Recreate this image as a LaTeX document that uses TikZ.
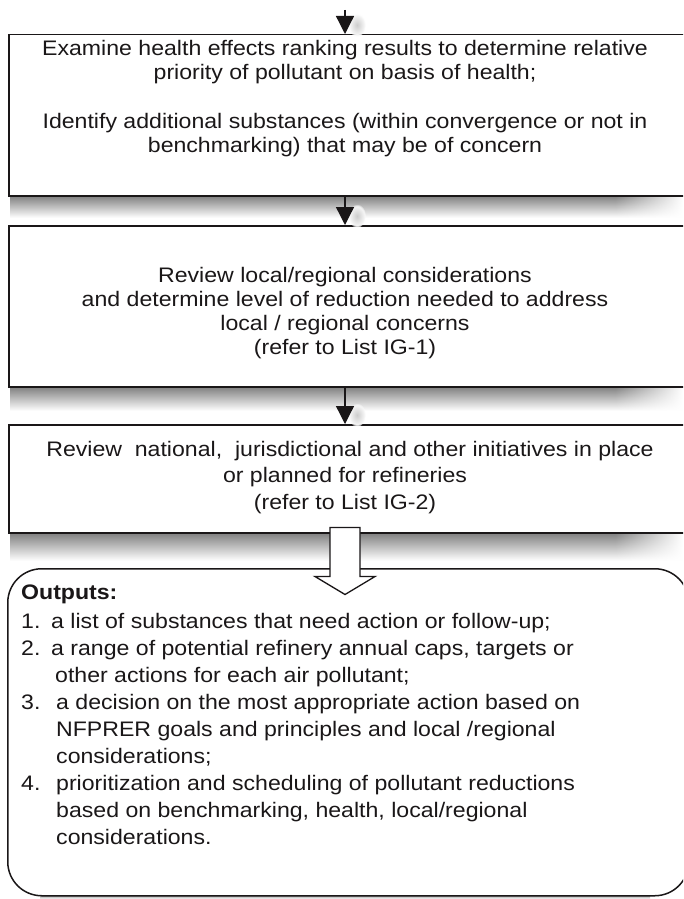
\documentclass[tikz,border=0pt]{standalone}
\usepackage{fontspec}
\setmainfont{Liberation Sans}[FakeStretch=1.1]
\usetikzlibrary{arrows.meta,fadings,calc}
\definecolor{ink}{HTML}{1A1718}
\newcommand\bxshadow[2]{%
  \shade[top color=black!50, bottom color=white] (10,#1) rectangle (615,{#1+#2});
  \shade[top color=black!50, bottom color=white, path fading=east] (615,#1) rectangle (683,{#1+#2});
}
\newcommand\tipshadow[1]{%
  \shade[inner color=black!20, outer color=white, path fading=circle with fuzzy edge 20 percent] ($(#1)+(12,-9)$) ellipse (9 and 12);
}
\begin{document}
\begin{tikzpicture}[x=1pt,y=-1pt,
  box/.style={draw=ink, line width=1.5pt, fill=white, inner sep=0pt, anchor=north west},
  txt/.style={inner sep=0pt, anchor=base, text=ink, font=\fontsize{21}{24}\selectfont},
  ltxt/.style={txt, anchor=base west},
  arr/.style={draw=ink, line width=1.3pt, -{Triangle[length=18pt,width=18pt]}},
  hollow/.style={draw=ink, fill=white, line width=1.3pt}]
\useasboundingbox (0,0) rectangle (683,899);
\clip (0,0) rectangle (683,899);
\fill[white] (0,0) rectangle (683,899);
\coordinate (cx) at (345,0);
\coordinate (start) at (345,10);

% shadows
\bxshadow{195.8}{22}
\bxshadow{386.8}{24}
\bxshadow{532.8}{28}
\shade[top color=black!35, bottom color=white] (40,895.5) rectangle (650,899);

% boxes
\node[box, minimum width=677pt, minimum height=161pt] (b1) at (8,34) {};
\node[box, minimum width=677pt, minimum height=161pt] (b2) at (8,225) {};
\node[box, minimum width=677pt, minimum height=108pt] (b3) at (8,424) {};
\node[box, rounded corners=34pt, minimum width=681pt, minimum height=327pt] (ob) at (7,568) {};

% arrow-head shadows
\tipshadow{b1.north -| cx}
\tipshadow{b2.north -| cx}
\tipshadow{b3.north -| cx}

% box 1 text
\node[txt] (t11) at (345,56) {Examine health effects ranking results to determine relative};
\node[txt] (t12) at (345,80) {priority of pollutant on basis of health;};
\node[txt] (t13) at (345,128) {Identify additional substances (within convergence or not in};
\node[txt] (t14) at (345,152) {benchmarking) that may be of concern};

% box 2 text
\node[txt] (t21) at (345,282) {Review local/regional considerations};
\node[txt] (t22) at (345,306) {and determine level of reduction needed to address};
\node[txt] (t23) at (345,330) {local / regional concerns};
\node[txt] (t24) at (345,354) {(refer to List IG-1)};

% box 3 text
\node[txt] (t31) at (350,456) {Review\ \ national,\ \ jurisdictional and other initiatives in place};
\node[txt] (t32) at (345,482.5) {or planned for refineries};
\node[txt] (t33) at (345,509) {(refer to List IG-2)};

% outputs text
\node[ltxt] (o0) at (21,599) {\bfseries Outputs:};
\node[ltxt] (o1) at (21,628) {\makebox[30pt][l]{1.}a list of substances that need action or follow-up;};
\node[ltxt] (o2) at (21,655) {\makebox[30pt][l]{2.}a range of potential refinery annual caps, targets or};
\node[ltxt] (o3) at (55,682) {other actions for each air pollutant;};
\node[ltxt] (o4) at (21,709) {\makebox[35pt][l]{3.}a decision on the most appropriate action based on};
\node[ltxt] (o5) at (56,736) {NFPRER goals and principles and local /regional};
\node[ltxt] (o6) at (56,763) {considerations;};
\node[ltxt] (o7) at (21,790) {\makebox[35pt][l]{4.}prioritization and scheduling of pollutant reductions};
\node[ltxt] (o8) at (56,817) {based on benchmarking, health, local/regional};
\node[ltxt] (o9) at (56,844) {considerations.};

% connectors
\draw[arr] (start) -- (b1.north -| cx);
\draw[arr] (b1.south -| cx) -- (b2.north -| cx);
\draw[arr] (b2.south -| cx) -- (b3.north -| cx);
\draw[hollow, shift={(b3.south -| cx)}]
  (-15,-6) -- (-15,43) -- (-30,43) -- (0,61) -- (30,43) -- (15,43) -- (15,-6) -- cycle;
\end{tikzpicture}
\end{document}
